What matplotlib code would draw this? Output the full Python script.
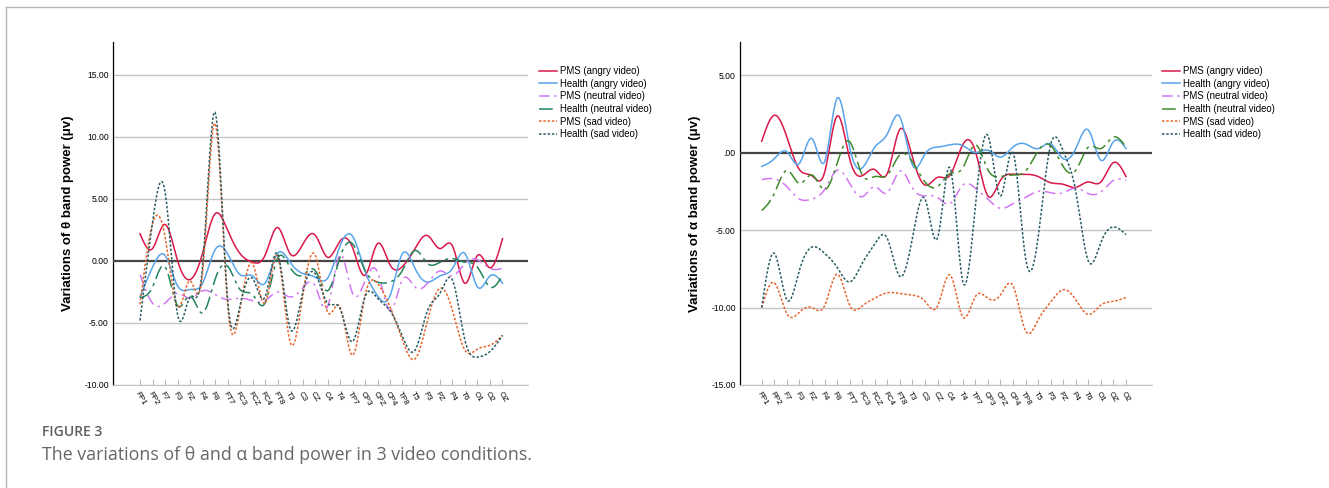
import numpy as np
import matplotlib
matplotlib.use("Agg")
import matplotlib.pyplot as plt

# ---------------- data ----------------
electrodes_theta = ["FP1", "FP2", "F7", "F3", "FZ", "F4", "F8", "FT7", "FC3", "FCZ",
                    "FC4", "FT8", "T3", "C3", "CZ", "C4", "T4", "TP7", "CP3", "CPZ",
                    "CP4", "TP8", "T5", "P3", "PZ", "P4", "T6", "O1", "O2", "OZ"]
electrodes_alpha = ["FP1", "FP2", "F7", "F3", "FZ", "F4", "F8", "FT7", "FC3", "FCZ",
                    "FC4", "FT8", "T3", "C3", "CZ", "C4", "T4", "TP7", "CP3", "CPZ",
                    "CP4", "TP8", "T5", "P3", "PZ", "P4", "T6", "O1", "OZ", "O2"]

series_names = ["PMS (angry video)", "Health (angry video)", "PMS (neutral video)",
                "Health (neutral video)", "PMS (sad video)", "Health (sad video)"]

theta_pms_angry = [2.2, 1.0, 2.95, 0.05, -1.5, 0.6, 3.8, 2.5, 0.6, -0.1,
                   0.45, 2.7, 0.6, 1.3, 2.1, 0.3, 1.6, 1.1, -1.15, 1.4,
                   -0.3, -0.45, 1.0, 2.05, 1.0, 1.2, -1.8, 0.45, -0.55, 1.8]
theta_health_angry = [-2.9, -0.5, 0.45, -2.0, -2.3, -1.8, 0.9, 0.6, -1.1, -1.2,
                      -1.8, 0.6, -0.1, -1.0, -1.3, -1.4, 1.2, 2.0, -0.8, -2.8,
                      -2.8, 0.6, -0.6, -1.7, -1.2, -0.6, 0.6, -2.1, -1.2, -1.8]
theta_pms_neutral = [-1.1, -3.4, -3.4, -2.6, -3.0, -2.4, -2.7, -3.1, -3.0, -3.2,
                     -3.2, -2.5, -2.9, -2.2, -2.0, -3.7, 0.5, -2.6, -1.6, -0.9,
                     -4.0, -1.5, -2.1, -1.8, -0.8, -1.2, -0.2, 0.1, -0.6, -0.6]
theta_health_neutral = [-2.95, -2.1, -0.45, -3.6, -2.8, -4.2, -1.5, -0.4, -2.3, -2.7,
                        -3.4, 0.2, -0.5, -1.15, -0.75, -2.4, 0.3, 1.4, -0.75, -1.7,
                        -1.7, -0.75, 0.85, -0.2, -0.1, 0.2, -0.1, -0.5, -2.1, -1.15]
theta_pms_sad = [-3.5, 3.0, 2.0, -3.7, -1.6, -1.0, 11.1, -3.4, -3.9, -0.2,
                 -3.4, 0.4, -6.5, -2.9, 0.5, -4.1, -3.7, -7.6, -2.8, -1.8,
                 -3.7, -6.4, -7.9, -4.8, -2.2, -4.0, -7.2, -7.1, -6.8, -6.0]
theta_health_sad = [-4.8, 3.1, 5.6, -4.3, -2.9, -0.5, 12.0, -3.0, -3.6, -1.4,
                    -2.9, 0.6, -5.4, -2.6, -1.0, -3.4, -3.85, -6.5, -2.9, -3.0,
                    -4.0, -6.1, -7.2, -4.0, -2.6, -1.55, -6.4, -7.75, -7.3, -6.0]

alpha_pms_angry = [0.73, 2.4, 1.0, -1.1, -1.5, -1.3, 2.35, -0.4, -1.5, -1.1,
                   -1.35, 1.5, -0.3, -2.1, -1.6, -1.45, 0.5, 0.1, -2.8, -1.8,
                   -1.4, -1.4, -1.55, -1.95, -2.05, -2.25, -1.9, -1.9, -0.65, -1.55]
alpha_health_angry = [-0.9, -0.4, 0.05, -0.7, 0.9, -0.6, 3.5, 0.35, -1.0, 0.35,
                      1.2, 2.3, -0.8, -0.1, 0.35, 0.5, 0.45, 0.0, 0.15, -0.3,
                      0.35, 0.55, 0.25, 0.55, -0.4, 0.25, 1.45, -0.5, 0.7, 0.25]
alpha_pms_neutral = [-1.75, -1.7, -2.2, -3.0, -3.0, -2.4, -1.15, -2.0, -2.85, -2.2,
                     -2.6, -1.2, -2.3, -2.8, -2.9, -3.3, -2.1, -2.3, -3.0, -3.6,
                     -3.3, -2.9, -2.5, -2.6, -2.6, -2.3, -2.65, -2.55, -1.8, -1.8]
alpha_health_neutral = [-3.75, -2.65, -1.15, -2.0, -1.45, -2.4, -0.7, 0.7, -1.45, -1.55,
                        -1.45, -0.15, -0.6, -1.9, -2.2, -1.35, -1.0, 0.5, -1.1, -1.55,
                        -1.45, -1.2, 0.1, 0.45, -0.9, -1.15, 0.35, 0.25, 1.0, 0.35]
alpha_pms_sad = [-10.0, -8.4, -10.4, -10.3, -10.0, -9.9, -7.85, -9.85, -9.9, -9.4,
                 -9.05, -9.1, -9.2, -9.6, -9.9, -7.9, -10.6, -9.3, -9.4, -9.2,
                 -8.6, -11.5, -10.8, -9.65, -8.85, -9.5, -10.45, -9.85, -9.6, -9.35]
alpha_health_sad = [-10.0, -6.5, -9.5, -7.6, -6.1, -6.5, -7.4, -8.35, -7.15, -5.9,
                    -5.55, -8.0, -5.5, -3.0, -5.5, -1.0, -8.3, -3.5, 1.1, -2.8,
                    0.0, -6.8, -5.5, 0.5, 0.1, -2.5, -7.0, -5.8, -4.8, -5.3]

theta_yticks = [15, 10, 5, 0, -5, -10]
theta_ylabels = ["15.00", "10.00", "5.00", "0.00", "-5.00", "-10.00"]
alpha_yticks = [5, 0, -5, -10, -15]
alpha_ylabels = ["5.00", ".00", "-5.00", "-10.00", "-15.00"]

# ---------------- style ----------------
FONT = ["Liberation Sans", "DejaVu Sans"]
plt.rcParams["font.family"] = FONT

styles_theta = [
    dict(color="#d9184a", ls="-", lw=1.1),
    dict(color="#58a4ea", ls="-", lw=1.1),
    dict(color="#d276f2", ls=(0, (7, 3, 1.5, 3)), lw=1.1),
    dict(color="#23855a", ls=(0, (9, 3, 2, 3)), lw=1.1),
    dict(color="#e8632b", ls=(0, (1.6, 1.2)), lw=1.1),
    dict(color="#265c62", ls=(0, (1.6, 1.2)), lw=1.1),
]
styles_alpha = [dict(s) for s in styles_theta]
styles_alpha[3]["color"] = "#3e8b2b"


def smooth(values, n=20):
    y = np.asarray(values, dtype=float)
    N = len(y)
    A = np.zeros((N, N))
    b = np.zeros(N)
    A[0, 0] = 1
    A[-1, -1] = 1
    for i in range(1, N - 1):
        A[i, i - 1] = 1
        A[i, i] = 4
        A[i, i + 1] = 1
        b[i] = 6 * (y[i + 1] - 2 * y[i] + y[i - 1])
    M = np.linalg.solve(A, b)
    xs = np.linspace(0, N - 1, (N - 1) * n + 1)
    i = np.minimum(np.floor(xs).astype(int), N - 2)
    t = xs - i
    ys = ((1 - t) * y[i] + t * y[i + 1]
          + ((1 - t) ** 3 - (1 - t)) * M[i] / 6 + (t ** 3 - t) * M[i + 1] / 6)
    return xs, ys


W, H = 1329, 488
fig = plt.figure(figsize=(W / 100, H / 100), dpi=100)

# outer frame lines (top and left)
fig.add_artist(plt.Line2D([6 / W, 1.0], [1 - 7 / H, 1 - 7 / H], transform=fig.transFigure,
                          color="#b5b5b5", lw=1.0))
fig.add_artist(plt.Line2D([6 / W, 6 / W], [0, 1 - 7 / H], transform=fig.transFigure,
                          color="#b5b5b5", lw=1.0))


def make_panel(rect, labels, data, styles, yticks, ylabels, ylim, xlim, ylabel, leg_xy):
    ax = fig.add_axes(rect)
    ax.set_facecolor("none")
    for y in yticks:
        if y == 0:
            ax.axhline(0, color="#444444", lw=1.6, zorder=3)
        else:
            ax.axhline(y, color="#c4c4c4", lw=1.0, zorder=1)
    handles = []
    for vals, st, name in zip(data, styles, series_names):
        xs, ys = smooth(vals)
        ln, = ax.plot(xs, ys, color=st["color"], linestyle=st["ls"], lw=st["lw"],
                      zorder=4, label=name)
        handles.append(ln)
    ax.set_xlim(*xlim)
    ax.set_ylim(*ylim)
    ax.set_yticks(yticks)
    ax.set_yticklabels(ylabels, fontsize=6.2)
    ax.set_xticks(range(len(labels)))
    ax.set_xticklabels(labels, fontsize=5.8, rotation=-60, ha="left", va="top",
                       rotation_mode="anchor")
    ax.tick_params(axis="x", direction="in", length=4, color="#bbbbbb", pad=4)
    ax.tick_params(axis="y", length=0, pad=3)
    for s in ["top", "right"]:
        ax.spines[s].set_visible(False)
    ax.spines["bottom"].set_color("#c4c4c4")
    ax.spines["left"].set_color("#000000")
    ax.spines["left"].set_linewidth(0.9)
    ax.set_ylabel(ylabel, fontsize=9.5, fontweight="bold", labelpad=7)
    fig.legend(handles=handles, loc="upper left",
               bbox_to_anchor=(leg_xy[0] / W, 1 - leg_xy[1] / H),
               frameon=False, fontsize=6.9, handlelength=1.9, handletextpad=0.3,
               labelspacing=0.28, borderpad=0, borderaxespad=0)
    return ax


make_panel([113 / W, 103 / H, 415 / W, 343 / H], electrodes_theta,
           [theta_pms_angry, theta_health_angry, theta_pms_neutral,
            theta_health_neutral, theta_pms_sad, theta_health_sad],
           styles_theta, theta_yticks, theta_ylabels, (-10, 17.66), (-2.16, 31.04),
           "Variations of θ band power (μv)", (539, 66))

make_panel([740 / W, 103 / H, 412 / W, 343 / H], electrodes_alpha,
           [alpha_pms_angry, alpha_health_angry, alpha_pms_neutral,
            alpha_health_neutral, alpha_pms_sad, alpha_health_sad],
           styles_alpha, alpha_yticks, alpha_ylabels, (-15, 7.13), (-1.73, 31.07),
           "Variations of α band power (μv)", (1162, 66))

fig.text(42 / W, 1 - 432 / H, "FIGURE 3", fontsize=10, color="#5f5f5f",
         fontweight="semibold", family=["Open Sans", "DejaVu Sans"], va="center")
fig.text(42 / W, 1 - 455 / H, "The variations of θ and α band power in 3 video conditions.",
         fontsize=12.8, color="#666666", family=["Open Sans", "DejaVu Sans"], va="center")

fig.savefig("out.png", dpi=100)
